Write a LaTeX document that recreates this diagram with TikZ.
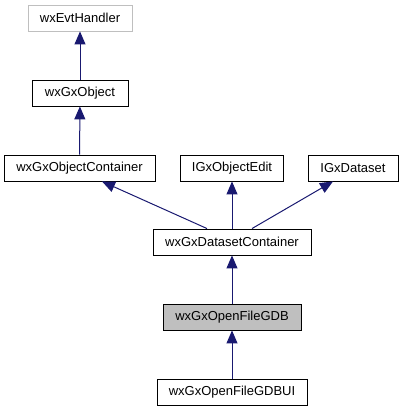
\documentclass[tikz,border=0pt]{standalone}
\usepackage{fontspec}
\setmainfont{Liberation Sans}
\usetikzlibrary{arrows.meta}

\definecolor{edgeblue}{RGB}{25,25,112}
\definecolor{grey75}{RGB}{191,191,191}

\begin{document}
\begin{tikzpicture}[
    x=1pt, y=-1pt,
    font=\fontsize{13}{15}\selectfont
  ]

  % Styles
  \tikzstyle{cls}=[draw, line width=0.9pt, minimum height=26pt, inner sep=0pt]
  \tikzstyle{ext}=[cls, draw=grey75]
  \tikzstyle{cur}=[cls, fill=grey75]
  \tikzstyle{inherit}=[edgeblue, line width=1pt, -{Triangle[length=13pt,width=11pt]}]

  \useasboundingbox (0,0) rectangle (403,411);

  % Base classes
  \node[ext, minimum width=104pt] (evt) at (80,18) {wxEvtHandler};
  \node[cls, minimum width=96pt] (obj) at (80,93) {wxGxObject};
  \node[cls, minimum width=151pt] (objc) at (79.5,168) {wxGxObjectContainer};
  \node[cls, minimum width=103pt] (edit) at (232,168) {IGxObjectEdit};
  \node[cls, minimum width=90pt] (ds) at (353,168) {IGxDataset};

  % Derived classes
  \node[cls, minimum width=158pt] (dsc) at (232,242) {wxGxDatasetContainer};
  \node[cur, minimum width=138pt] (gdb) at (232,317) {wxGxOpenFileGDB};
  \node[cls, minimum width=150pt] (gdbui) at (232,392) {wxGxOpenFileGDBUI};

  % Inheritance arrows
  \draw[inherit] (obj) -- (evt);
  \draw[inherit] (objc) -- (obj);
  \draw[inherit] ([xshift=-25pt]dsc.north) -- ([xshift=22.5pt]objc.south);
  \draw[inherit] (dsc) -- (edit);
  \draw[inherit] ([xshift=20pt]dsc.north) -- ([xshift=-20pt]ds.south);
  \draw[inherit] (gdb) -- (dsc);
  \draw[inherit] (gdbui) -- (gdb);

\end{tikzpicture}
\end{document}
